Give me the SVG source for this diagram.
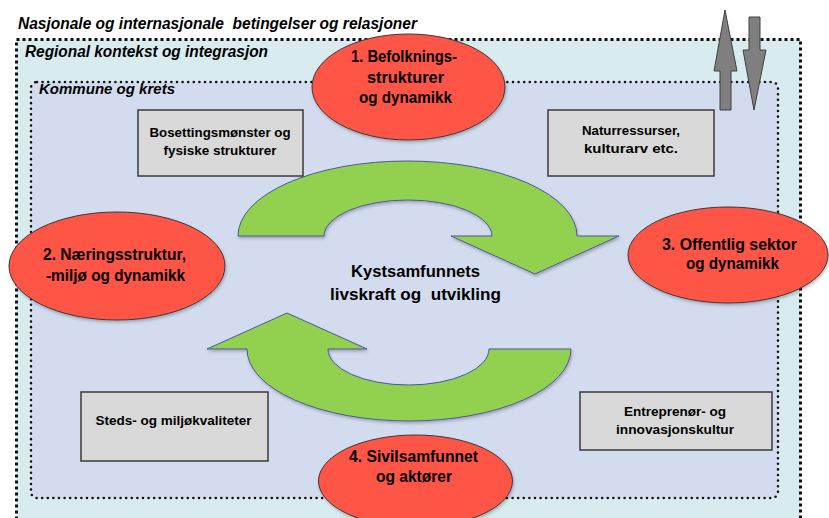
<svg xmlns="http://www.w3.org/2000/svg" width="829" height="518" viewBox="0 0 829 518">
<defs>
<style>
text{white-space:pre}
.t{font-family:"Liberation Sans",Arial,sans-serif;font-weight:bold;fill:#000;text-anchor:middle}
.hd{font-family:"Liberation Sans",Arial,sans-serif;font-weight:bold;font-style:italic;fill:#000}
.ell{fill:#FE5546;stroke:#3a3a3a;stroke-width:1}
.box{fill:#D9D9D9;stroke:#3a3a3a;stroke-width:1.5}
.grn{fill:#92D050;stroke:#4a58a0;stroke-width:1;filter:url(#sh)}
.gar{fill:#7F7F7F;stroke:#404040;stroke-width:1}
</style>
<filter id="sh" x="-10%" y="-10%" width="120%" height="130%">
<feDropShadow dx="1" dy="2" stdDeviation="1.5" flood-color="#000" flood-opacity="0.25"/>
</filter>
</defs>
<rect width="829" height="518" fill="#fff"/>

<g id="outer">
<rect x="16.5" y="39.5" width="784" height="500" fill="#D8ECEF" stroke="#111" stroke-width="3" stroke-dasharray="3 3"/>
<text class="hd" x="18" y="29" font-size="16" textLength="399" lengthAdjust="spacingAndGlyphs" xml:space="preserve">Nasjonale og internasjonale  betingelser og relasjoner</text>
<text class="hd" x="25" y="57" font-size="16" textLength="243" lengthAdjust="spacingAndGlyphs">Regional kontekst og integrasjon</text>
</g>

<g id="inner">
<rect x="31" y="82" width="747" height="416" rx="6" fill="#D3DBEE" stroke="#111" stroke-width="2.6" stroke-dasharray="0 5.6" stroke-linecap="round"/>
<text class="hd" x="39" y="94" font-size="14.5" textLength="136" lengthAdjust="spacingAndGlyphs">Kommune og krets</text>
</g>

<g id="connectors">
<path class="grn" d="M238,236 A169.5,75 0 0 1 577,236 L619,236 L535,274 L451,236 L492,236 A84,36 0 0 0 324,236 Z"/>
<path class="grn" d="M571,349 A162,72 0 0 1 247,349 L207,349 L287,313 L367,349 L328,349 A80.5,36 0 0 0 489,349 Z"/>
<path class="gar" d="M720,110 L720,71 L714,71 L725,10 L737,71 L731,71 L731,110 Z"/>
<path class="gar" d="M749,17 L760,17 L760,50 L766,50 L754,110 L743,50 L749,50 Z"/>
</g>

<g id="center">
<text class="t" x="415.5" y="277" font-size="16" textLength="129" lengthAdjust="spacingAndGlyphs">Kystsamfunnets</text>
<text class="t" x="415.5" y="300" font-size="16" textLength="171" lengthAdjust="spacingAndGlyphs" xml:space="preserve">livskraft og  utvikling</text>
</g>

<g id="e1">
<ellipse class="ell" cx="408.5" cy="87" rx="96.5" ry="53" filter="url(#sh)"/>
<text class="t" x="404" y="62" font-size="16" textLength="106" lengthAdjust="spacingAndGlyphs">1. Befolknings-</text>
<text class="t" x="405.5" y="83" font-size="16" textLength="77" lengthAdjust="spacingAndGlyphs">strukturer</text>
<text class="t" x="405.5" y="103" font-size="16" textLength="93" lengthAdjust="spacingAndGlyphs">og dynamikk</text>
</g>

<g id="e2">
<ellipse class="ell" cx="117" cy="266" rx="108" ry="54" filter="url(#sh)"/>
<text class="t" x="114.5" y="260" font-size="16" textLength="143" lengthAdjust="spacingAndGlyphs">2. Næringsstruktur,</text>
<text class="t" x="115.5" y="281" font-size="16" textLength="139" lengthAdjust="spacingAndGlyphs">-miljø og dynamikk</text>
</g>

<g id="e3">
<ellipse class="ell" cx="728" cy="255" rx="100" ry="48" filter="url(#sh)"/>
<text class="t" x="729.5" y="250" font-size="16" textLength="135" lengthAdjust="spacingAndGlyphs">3. Offentlig sektor</text>
<text class="t" x="732.5" y="269" font-size="16" textLength="93" lengthAdjust="spacingAndGlyphs">og dynamikk</text>
</g>

<g id="e4">
<ellipse class="ell" cx="415.5" cy="481" rx="97" ry="46" filter="url(#sh)"/>
<text class="t" x="413.5" y="462" font-size="16" textLength="129" lengthAdjust="spacingAndGlyphs">4. Sivilsamfunnet</text>
<text class="t" x="414" y="482" font-size="16" textLength="76" lengthAdjust="spacingAndGlyphs">og aktører</text>
</g>

<g id="b1">
<rect class="box" x="138" y="110" width="165" height="66"/>
<text class="t" x="220" y="137" font-size="12.5" textLength="141" lengthAdjust="spacingAndGlyphs">Bosettingsmønster og</text>
<text class="t" x="220" y="155" font-size="12.5" textLength="113" lengthAdjust="spacingAndGlyphs">fysiske strukturer</text>
</g>

<g id="b2">
<rect class="box" x="548" y="110" width="166" height="66"/>
<text class="t" x="631" y="135" font-size="12.5" textLength="98" lengthAdjust="spacingAndGlyphs">Naturressurser,</text>
<text class="t" x="631" y="153" font-size="12.5" textLength="94" lengthAdjust="spacingAndGlyphs">kulturarv etc.</text>
</g>

<g id="b3">
<rect class="box" x="81" y="392" width="187" height="69"/>
<text class="t" x="173.5" y="425" font-size="12.5" textLength="156" lengthAdjust="spacingAndGlyphs">Steds- og miljøkvaliteter</text>
</g>

<g id="b4">
<rect class="box" x="580" y="392" width="192" height="58"/>
<text class="t" x="675" y="416" font-size="12.5" textLength="102" lengthAdjust="spacingAndGlyphs">Entreprenør- og</text>
<text class="t" x="675" y="434" font-size="12.5" textLength="118" lengthAdjust="spacingAndGlyphs">innovasjonskultur</text>
</g>
</svg>
